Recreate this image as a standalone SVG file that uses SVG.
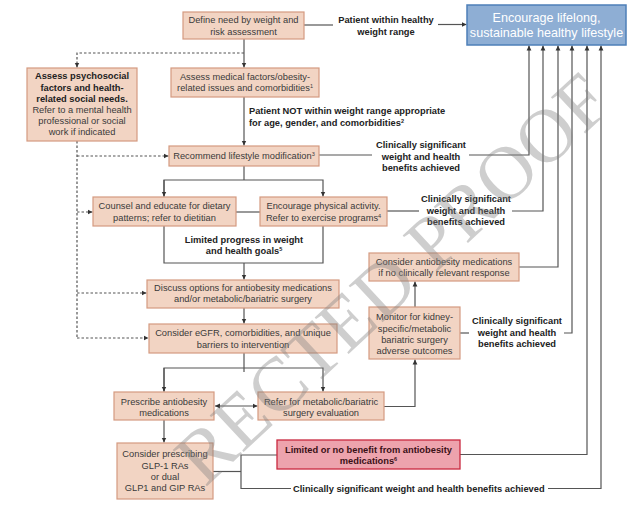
<svg xmlns="http://www.w3.org/2000/svg" width="640" height="507" viewBox="0 0 640 507">
<style>
.box{fill:#f2d4c3;stroke:#d49a80;stroke-width:1.2}
.red{fill:#eda3ad;stroke:#c9283f;stroke-width:1.3}
.blue{fill:#8eaed4;stroke:#4d7fb8;stroke-width:1.5}
.t{font-family:"Liberation Sans",Arial,sans-serif;font-size:9.3px;fill:#3a3a3a;text-anchor:middle}
.b{font-family:"Liberation Sans",Arial,sans-serif;font-size:9.3px;font-weight:bold;fill:#222;text-anchor:middle}
.w{font-family:"Liberation Sans",Arial,sans-serif;font-size:12.6px;fill:#ffffff;text-anchor:middle}
.ln{fill:none;stroke:#555;stroke-width:1.2}
.ds{fill:none;stroke:#555;stroke-width:1.2;stroke-dasharray:2.5,2}
.sup{font-size:5.5px}
</style>
<defs>
<marker id="a" markerUnits="userSpaceOnUse" markerWidth="6" markerHeight="6" refX="5" refY="3" orient="auto">
<path d="M0,0.6 L5,3 L0,5.4 Z" fill="#333"/>
</marker>
<marker id="as" markerUnits="userSpaceOnUse" markerWidth="6" markerHeight="6" refX="0" refY="3" orient="auto">
<path d="M5,0.6 L0,3 L5,5.4 Z" fill="#333"/>
</marker>
</defs>
<rect width="640" height="507" fill="#ffffff"/>

<g id="connectors">
<path class="ln" d="M304,25 H333"/>
<path class="ln" d="M438,24.5 H466.5" marker-end="url(#a)"/>
<path class="ln" d="M244,39 V67.5" marker-end="url(#a)"/>
<path class="ds" d="M244,53 H77 V67.5" marker-end="url(#a)"/>
<path class="ln" d="M244,97 V145.5" marker-end="url(#a)"/>
<path class="ds" d="M77,141 V338"/>
<path class="ds" d="M77,156 H168.5" marker-end="url(#a)"/>
<path class="ds" d="M77,212 H92.5" marker-end="url(#a)"/>
<path class="ds" d="M77,293 H146.5" marker-end="url(#a)"/>
<path class="ds" d="M77,338 H148.5" marker-end="url(#a)"/>
<path class="ln" d="M319,155 H372"/>
<path class="ln" d="M469,155 H529 V45.5" marker-end="url(#a)"/>
<path class="ln" d="M244,166 V180"/>
<path class="ln" d="M164,196.5 V180 H323 V196.5" marker-end="url(#a)"/>
<path class="ln" d="M164,180 V196.5" marker-end="url(#a)"/>
<path class="ln" d="M236,212 H260"/>
<path class="ln" d="M387,211 H419"/>
<path class="ln" d="M512,211 H543 V45.5" marker-end="url(#a)"/>
<path class="ln" d="M164,226 V263 H323 V226"/>
<path class="ln" d="M244,263 V279.5" marker-end="url(#a)"/>
<path class="ln" d="M244,308 V323.5" marker-end="url(#a)"/>
<path class="ln" d="M519,267 H558 V45.5" marker-end="url(#a)"/>
<path class="ln" d="M415,307 V281.5" marker-end="url(#a)"/>
<path class="ln" d="M460,333 H469"/>
<path class="ln" d="M564,333 H572 V45.5" marker-end="url(#a)"/>
<path class="ln" d="M244,353 V372"/>
<path class="ln" d="M164,391.5 V368 H323 V391.5" marker-end="url(#a)"/>
<path class="ln" d="M164,368 V391.5" marker-end="url(#a)"/>
<path class="ln" d="M215,406 H257.5" marker-start="url(#as)" marker-end="url(#a)"/>
<path class="ln" d="M384,406.5 H415 V359.5" marker-end="url(#a)"/>
<path class="ln" d="M164,420 V442.5" marker-end="url(#a)"/>
<path class="ln" d="M213,471.5 H241"/>
<path class="ln" d="M277,455 H241 V488.5 H291"/>
<path class="ln" d="M460,454.5 H587 V45.5" marker-end="url(#a)"/>
<path class="ln" d="M548,488.5 H601 V45.5" marker-end="url(#a)"/>
</g>

<g id="n-target">
<rect class="blue" x="467" y="5" width="159" height="40"/>
<text class="w" x="546.5" y="21.5">Encourage lifelong,</text>
<text class="w" x="546.5" y="36.5">sustainable healthy lifestyle</text>
</g>
<g id="n-define">
<rect class="box" x="183" y="12" width="121" height="27"/>
<text class="t" x="243.5" y="23.3">Define need by weight and</text>
<text class="t" x="243.5" y="34.5">risk assessment</text>
</g>
<g id="n-medical">
<rect class="box" x="171" y="68" width="148" height="29"/>
<text class="t" x="245" y="79.5">Assess medical factors/obesity-</text>
<text class="t" x="245" y="91">related issues and comorbidities<tspan class="sup" baseline-shift="super">1</tspan></text>
</g>
<g id="n-psycho">
<rect class="box" x="27" y="68" width="110" height="73"/>
<text class="b" x="82" y="79.3">Assess psychosocial</text>
<text class="b" x="82" y="90.5">factors and health-</text>
<text class="b" x="82" y="101.7">related social needs.</text>
<text class="t" x="82" y="112.9">Refer to a mental health</text>
<text class="t" x="82" y="124.1">professional or social</text>
<text class="t" x="82" y="135.3">work if indicated</text>
</g>
<g id="n-lifestyle">
<rect class="box" x="169" y="146" width="150" height="20"/>
<text class="t" x="244" y="158.8">Recommend lifestyle modification<tspan class="sup" baseline-shift="super">3</tspan></text>
</g>
<g id="n-counsel">
<rect class="box" x="93" y="197" width="143" height="29"/>
<text class="t" x="164.5" y="209.3">Counsel and educate for dietary</text>
<text class="t" x="164.5" y="220.5">patterns; refer to dietitian</text>
</g>
<g id="n-physical">
<rect class="box" x="260" y="197" width="127" height="29"/>
<text class="t" x="323.5" y="209.3">Encourage physical activity.</text>
<text class="t" x="323.5" y="220.5">Refer to exercise programs<tspan class="sup" baseline-shift="super">4</tspan></text>
</g>
<g id="n-discuss">
<rect class="box" x="147" y="280" width="192" height="28"/>
<text class="t" x="243" y="291">Discuss options for antiobesity medications</text>
<text class="t" x="243" y="302">and/or metabolic/bariatric surgery</text>
</g>
<g id="n-egfr">
<rect class="box" x="149" y="324" width="188" height="29"/>
<text class="t" x="243" y="336.3">Consider eGFR, comorbidities, and unique</text>
<text class="t" x="243" y="347.5">barriers to intervention</text>
</g>
<g id="n-consider">
<rect class="box" x="369" y="253" width="150" height="28"/>
<text class="t" x="444" y="264.5">Consider antiobesity medications</text>
<text class="t" x="444" y="276">if no clinically relevant response</text>
</g>
<g id="n-monitor">
<rect class="box" x="369" y="307" width="91" height="52"/>
<text class="t" x="414.5" y="320.3">Monitor for kidney-</text>
<text class="t" x="414.5" y="331.5">specific/metabolic</text>
<text class="t" x="414.5" y="342.7">bariatric surgery</text>
<text class="t" x="414.5" y="353.9">adverse outcomes</text>
</g>
<g id="n-prescribe">
<rect class="box" x="114" y="392" width="100" height="28"/>
<text class="t" x="164" y="405">Prescribe antiobesity</text>
<text class="t" x="164" y="416">medications</text>
</g>
<g id="n-refer">
<rect class="box" x="258" y="392" width="126" height="28"/>
<text class="t" x="321" y="404.5">Refer for metabolic/bariatric</text>
<text class="t" x="321" y="415.5">surgery evaluation</text>
</g>
<g id="n-glp">
<rect class="box" x="117" y="443" width="96" height="56"/>
<text class="t" x="165" y="457.3">Consider prescribing</text>
<text class="t" x="165" y="468.5">GLP-1 RAs</text>
<text class="t" x="165" y="479.7">or dual</text>
<text class="t" x="165" y="490.9">GLP1 and  GIP RAs</text>
</g>
<g id="n-limited">
<rect class="red" x="277" y="440" width="183" height="29"/>
<text class="b" x="368.5" y="452.5" style="fill:#3a1016">Limited or no benefit from antiobesity</text>
<text class="b" x="368.5" y="463.5" style="fill:#3a1016">medications<tspan class="sup" baseline-shift="super">6</tspan></text>
</g>

<g id="labels">
<text class="b" x="386" y="23.3">Patient within healthy</text>
<text class="b" x="386" y="34.5">weight range</text>
<text class="b" x="249" y="114.3" style="text-anchor:start">Patient NOT within weight range appropriate</text>
<text class="b" x="249" y="125.5" style="text-anchor:start">for age, gender, and comorbidities<tspan class="sup" baseline-shift="super">2</tspan></text>
<text class="b" x="421" y="148.3">Clinically significant</text>
<text class="b" x="421" y="160">weight and health</text>
<text class="b" x="421" y="171.3">benefits achieved</text>
<text class="b" x="466" y="202.3">Clinically significant</text>
<text class="b" x="466" y="214">weight and health</text>
<text class="b" x="466" y="225.3">benefits achieved</text>
<text class="b" x="244" y="242.5">Limited progress in weight</text>
<text class="b" x="244" y="253.7">and health goals<tspan class="sup" baseline-shift="super">5</tspan></text>
<text class="b" x="517" y="324.3">Clinically significant</text>
<text class="b" x="517" y="335.5">weight and health</text>
<text class="b" x="517" y="346.7">benefits achieved</text>
<text class="b" x="293" y="491.8" style="text-anchor:start">Clinically significant weight and health benefits achieved</text>
</g>

<g id="watermark" opacity="0.38">
<text x="0" y="0" transform="translate(205,488) rotate(-43)" style="font-family:'Liberation Serif','Times New Roman',serif;font-size:76px;fill:#808080">RECTED PROOF</text>
</g>
</svg>
